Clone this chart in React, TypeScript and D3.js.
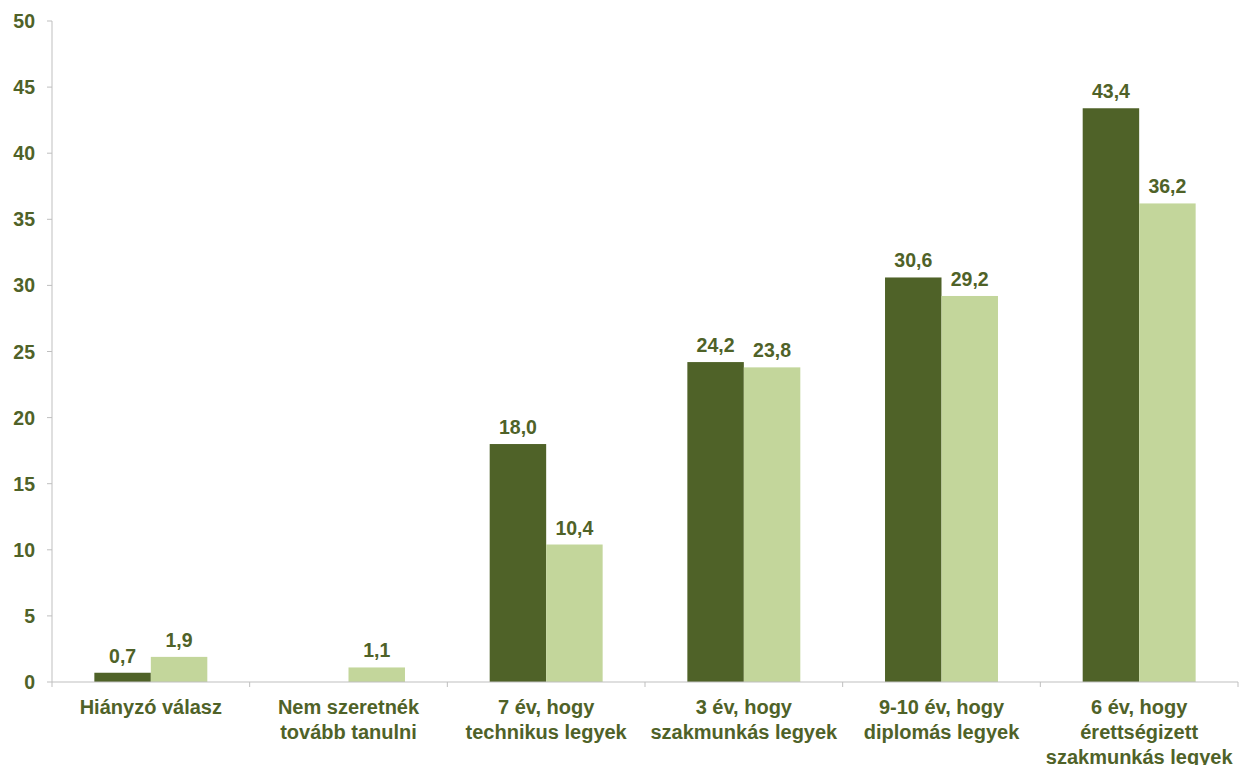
import React from "react";
import * as d3 from "d3";

const categories: string[][] = [
  ["Hiányzó válasz"],
  ["Nem szeretnék", "tovább tanulni"],
  ["7 év, hogy", "technikus legyek"],
  ["3 év, hogy", "szakmunkás legyek"],
  ["9-10 év, hogy", "diplomás legyek"],
  ["6 év, hogy", "érettségizett", "szakmunkás legyek"],
];
const seriesNames = ["A", "B"];
const seriesA: (number | null)[] = [0.7, null, 18.0, 24.2, 30.6, 43.4];
const seriesB: (number | null)[] = [1.9, 1.1, 10.4, 23.8, 29.2, 36.2];
const yTicks = [0, 5, 10, 15, 20, 25, 30, 35, 40, 45, 50];

const W = 1240;
const H = 765;
const DARK = "#4F6228";
const LIGHT = "#C3D69B";
const TEXT = "#4F6228";
const AXIS = "#BFBFBF";
const FONT = "'Liberation Sans', Arial, sans-serif";

export default function App() {
  const left = 52;
  const right = 1238;
  const top = 21;
  const bottom = 682;
  const keys = categories.map((_, i) => String(i));
  const x = d3.scaleBand<string>().domain(keys).range([left, right]).padding(0);
  const y = d3.scaleLinear().domain([0, 50]).range([bottom, top]);
  const bw = x.bandwidth();
  const half = (bw * 0.75) / 3.5;
  const xs = d3.scaleBand<string>().domain(seriesNames).range([half, bw - half]).padding(0);
  const fmt = (v: number) => d3.format(".1f")(v).replace(".", ",");
  const series = [
    { name: "A", values: seriesA, color: DARK },
    { name: "B", values: seriesB, color: LIGHT },
  ];
  const boundaries = keys.map((k) => x(k)!).concat([right]);

  return (
    <svg
      width={W}
      height={H}
      style={{ position: "absolute", left: 0, top: 0, background: "#fff" }}
      fontFamily={FONT}
    >
      <rect x={0} y={0} width={W} height={H} fill="#fff" />
      {series.map((s) =>
        s.values.map((v, i) =>
          v == null ? null : (
            <rect
              key={s.name + i}
              x={x(keys[i])! + xs(s.name)!}
              y={y(v)}
              width={xs.bandwidth()}
              height={y(0) - y(v)}
              fill={s.color}
            />
          )
        )
      )}
      <line x1={left} x2={left} y1={top} y2={bottom} stroke={AXIS} strokeWidth={1} />
      {yTicks.map((t) => (
        <g key={t}>
          <line x1={left - 5} x2={left} y1={y(t)} y2={y(t)} stroke={AXIS} />
          <text
            x={35}
            y={y(t)}
            dy="0.36em"
            textAnchor="end"
            fontSize={19.5}
            fontWeight="bold"
            fill={TEXT}
          >
            {t}
          </text>
        </g>
      ))}
      <line x1={left} x2={right} y1={bottom} y2={bottom} stroke={AXIS} strokeWidth={1} />
      {boundaries.map((b, i) => (
        <line key={i} x1={b} x2={b} y1={bottom} y2={bottom + 5} stroke={AXIS} />
      ))}
      {categories.map((lines, i) => (
        <text
          key={i}
          textAnchor="middle"
          fontSize={20}
          fontWeight="bold"
          fill={TEXT}
        >
          {lines.map((l, j) => (
            <tspan key={j} x={x(keys[i])! + bw / 2} y={714 + j * 25}>
              {l}
            </tspan>
          ))}
        </text>
      ))}
      {series.map((s) =>
        s.values.map((v, i) =>
          v == null ? null : (
            <text
              key={"l" + s.name + i}
              x={x(keys[i])! + xs(s.name)! + xs.bandwidth() / 2}
              y={y(v) - 10}
              textAnchor="middle"
              fontSize={19.5}
              fontWeight="bold"
              fill={TEXT}
            >
              {fmt(v)}
            </text>
          )
        )
      )}
    </svg>
  );
}
